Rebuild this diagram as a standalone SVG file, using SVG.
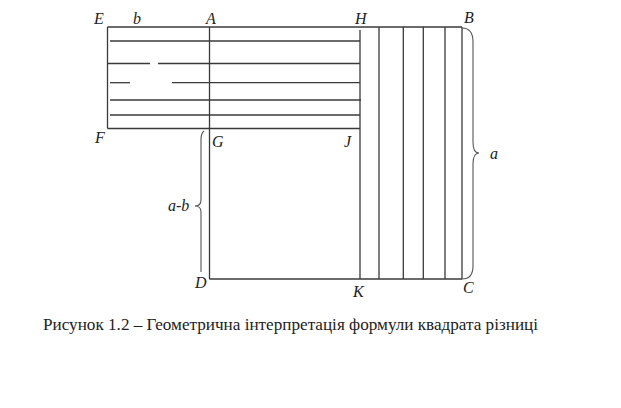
<svg xmlns="http://www.w3.org/2000/svg" width="621" height="408" viewBox="0 0 621 408">
<style>
.ln{stroke:#3a3a3a;stroke-width:1.3;fill:none}
.br{stroke:#555;stroke-width:1.1;fill:none}
.lb{font-family:"Liberation Serif","Times New Roman",serif;font-style:italic;font-size:16px;fill:#222}
.cap{font-family:"Liberation Serif","Times New Roman",serif;font-size:17px;fill:#222}
</style>
<rect width="621" height="408" fill="#fff"/>
<g id="figure">
<g id="square-lines">
<line class="ln" x1="107.5" y1="27" x2="462" y2="27"/>
<line class="ln" x1="107.5" y1="27" x2="107.5" y2="128.5"/>
<line class="ln" x1="107.5" y1="128.5" x2="360" y2="128.5"/>
<line class="ln" x1="209.5" y1="27" x2="209.5" y2="279"/>
<line class="ln" x1="209.5" y1="279" x2="462" y2="279"/>
<line class="ln" x1="110" y1="41" x2="360" y2="41"/>
<line class="ln" x1="107.5" y1="63.5" x2="150" y2="63.5"/>
<line class="ln" x1="158" y1="63.5" x2="360" y2="63.5"/>
<line class="ln" x1="110" y1="82.7" x2="130" y2="82.7"/>
<line class="ln" x1="172" y1="82.7" x2="360" y2="82.7"/>
<line class="ln" x1="110" y1="100" x2="361" y2="100"/>
<line class="ln" x1="110" y1="115" x2="360" y2="115"/>
<line class="ln" x1="360" y1="30" x2="360" y2="279"/>
<line class="ln" x1="379" y1="27" x2="379" y2="279"/>
<line class="ln" x1="403.3" y1="27" x2="403.3" y2="279"/>
<line class="ln" x1="423.3" y1="27" x2="423.3" y2="279"/>
<line class="ln" x1="445" y1="27" x2="445" y2="279"/>
<line class="ln" x1="462" y1="27" x2="462" y2="279"/>
</g>
<g id="braces">
<path class="br" d="M462,28 Q473,28 473,42 L473,142 Q473,153 479,153 Q473,153 473,164 L473,266 Q473,279 462,279"/>
<path class="br" d="M204,131 Q201,133 201,140 L201,200 Q201,206 195,206 Q201,206 201,212 L201,272"/>
</g>
<g id="labels">
<text class="lb" x="94" y="24">E</text>
<text class="lb" x="133" y="24">b</text>
<text class="lb" x="206" y="24">A</text>
<text class="lb" x="355" y="24">H</text>
<text class="lb" x="464" y="23">B</text>
<text class="lb" x="95" y="143">F</text>
<text class="lb" x="212" y="147">G</text>
<text class="lb" x="344" y="147">J</text>
<text class="lb" x="490" y="159">a</text>
<text class="lb" x="168" y="211">a-b</text>
<text class="lb" x="195" y="288">D</text>
<text class="lb" x="353" y="297">K</text>
<text class="lb" x="463" y="293">C</text>
</g>
<text class="cap" x="43" y="330" textLength="495" lengthAdjust="spacingAndGlyphs">Рисунок 1.2 – Геометрична інтерпретація формули квадрата різниці</text>
</g>
</svg>
